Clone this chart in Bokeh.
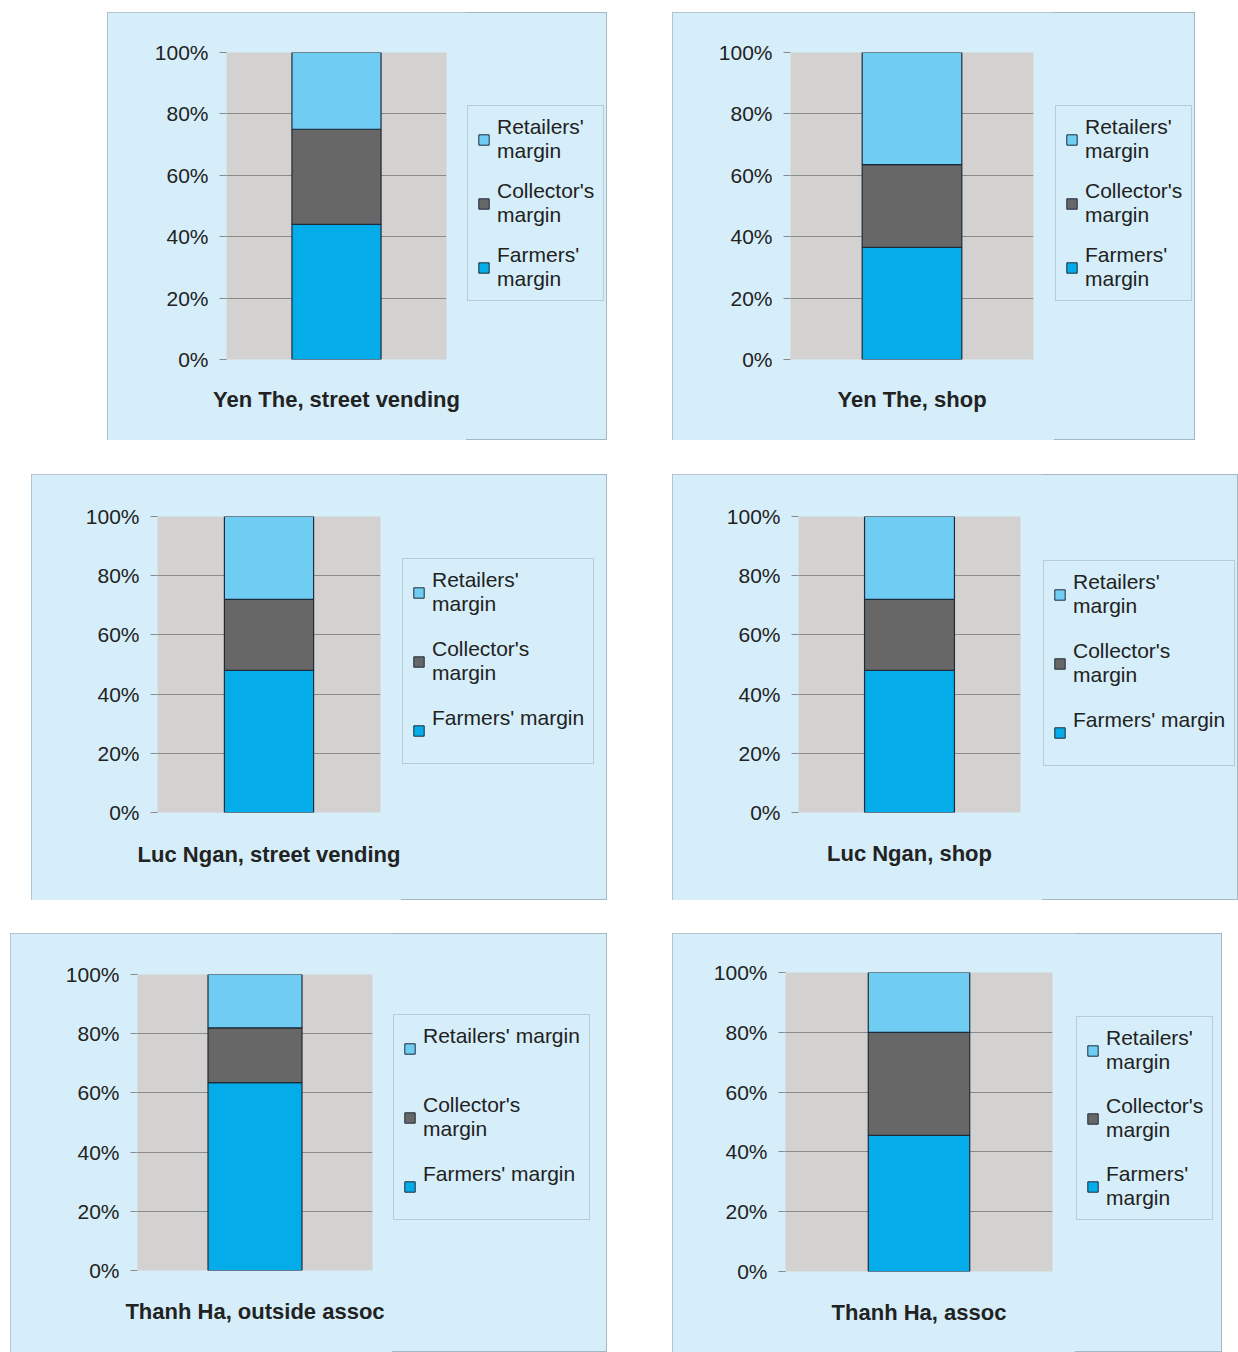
from bokeh.plotting import figure
from bokeh.layouts import column, row
from bokeh.models import (Spacer, Legend, LegendItem, FixedTicker, Range1d,
                          FactorRange, ColumnDataSource)
from bokeh.embed import file_html
from bokeh.resources import INLINE

# ---------------- data ----------------
panels = ["Yen The, street vending", "Yen The, shop",
          "Luc Ngan, street vending", "Luc Ngan, shop",
          "Thanh Ha, outside assoc", "Thanh Ha, assoc"]
farmers_margin = [44, 36.5, 48, 48, 63.5, 45.5]
collectors_margin = [31, 27, 24, 24, 18.5, 34.5]
retailers_margin = [25, 36.5, 28, 28, 18, 20]
series_names = ["Retailers' margin", "Collector's margin", "Farmers' margin"]
y_ticks = [0, 20, 40, 60, 80, 100]
y_tick_labels = ["0%", "20%", "40%", "60%", "80%", "100%"]
legend_labels = [
    ["Retailers'\nmargin", "Collector's\nmargin", "Farmers'\nmargin"],
    ["Retailers'\nmargin", "Collector's\nmargin", "Farmers'\nmargin"],
    ["Retailers'\nmargin", "Collector's\nmargin", "Farmers' margin\n "],
    ["Retailers'\nmargin", "Collector's\nmargin", "Farmers' margin\n "],
    ["Retailers' margin\n ", "Collector's\nmargin", "Farmers' margin\n "],
    ["Retailers'\nmargin", "Collector's\nmargin", "Farmers'\nmargin"],
]

# ---------------- style / geometry ----------------
OUTER_BG = "#d5eef9"
PLOT_BG = "#d4d1d1"
C_FARM = "#05acea"
C_COLL = "#676767"
C_RET = "#6fcdf4"
EDGE = "#1e2b38"
FONT = "Liberation Sans"

# box (x, y, w, h), frame (l, t, r, b) absolute, legend (left, top, spacing), title gap, bar width
geo = [
    dict(box=(107, 12, 500, 428), frame=(226, 52, 446, 359), leg=(467, 107, 16), tgap=41, bw=0.405),
    dict(box=(672, 12, 523, 428), frame=(790, 52, 1033, 359), leg=(1055, 107, 16), tgap=41, bw=0.41),
    dict(box=(31, 474, 576, 426), frame=(157, 516, 380, 812), leg=(402, 560, 21), tgap=45, bw=0.40),
    dict(box=(672, 474, 566, 426), frame=(798, 516, 1020, 812), leg=(1043, 562, 21), tgap=44, bw=0.405),
    dict(box=(10, 933, 597, 419), frame=(137, 974, 372, 1270), leg=(393, 1016, 21), tgap=43, bw=0.40),
    dict(box=(672, 933, 550, 419), frame=(785, 972, 1052, 1271), leg=(1076, 1018, 20), tgap=43, bw=0.38),
]

PAD = 9
LINE = 24


def make_panel(i):
    g = geo[i]
    bx, by, bw_, bh = g["box"]
    fl, ft, fr, fb = g["frame"]
    lx, ltop, sp = g["leg"]
    split = lx - 1
    name = panels[i]
    src = ColumnDataSource(dict(panel=[name], farmers=[farmers_margin[i]],
                                collector=[collectors_margin[i]],
                                retailers=[retailers_margin[i]]))
    stack = ["farmers", "collector", "retailers"]
    colors = [C_FARM, C_COLL, C_RET]

    p = figure(x_range=FactorRange(factors=[name]), y_range=Range1d(0, 100),
               width=split - bx, height=bh, output_backend="svg", toolbar_location=None,
               title=name, title_location="below",
               min_border_left=fl - bx, min_border_right=split - fr,
               min_border_top=ft - by, min_border_bottom=by + bh - fb,
               background_fill_color=PLOT_BG, border_fill_color=OUTER_BG,
               outline_line_color=None)
    p.vbar_stack(stack, x="panel", width=g["bw"], color=colors,
                 line_color=EDGE, line_width=1.2, source=src)
    p.xaxis.visible = False
    p.xgrid.grid_line_color = None
    p.ygrid.grid_line_color = "#8a8a8a"
    p.ygrid.grid_line_width = 1
    ax = p.yaxis[0]
    ax.ticker = FixedTicker(ticks=y_ticks)
    ax.major_label_overrides = {t: l for t, l in zip(y_ticks, y_tick_labels)}
    ax.axis_line_color = None
    ax.major_tick_line_color = "#8a8a8a"
    ax.major_tick_out = 7
    ax.major_tick_in = 0
    ax.minor_tick_line_color = None
    ax.major_label_standoff = 11
    ax.major_label_text_font = FONT
    ax.major_label_text_font_size = "21px"
    ax.major_label_text_color = "#222222"

    p.title.align = "center"
    p.title.text_font = FONT
    p.title.text_font_size = "22px"
    p.title.text_font_style = "bold"
    p.title.text_color = "#222222"
    p.title.standoff = g["tgap"] + 9

    # legend canvas to the right of the plot frame (frame aligned with the plot's)
    lf = figure(x_range=FactorRange(factors=[name]), y_range=Range1d(0, 100),
                width=bx + bw_ - split, height=bh, output_backend="svg",
                toolbar_location=None, x_axis_location=None, y_axis_location=None,
                min_border_left=0, min_border_right=0,
                background_fill_color=None, border_fill_color=None,
                outline_line_color=None)
    lf.grid.visible = False
    rl = lf.vbar_stack(stack, x="panel", width=g["bw"], color=colors,
                       line_color=EDGE, line_width=1, source=src)
    for r in rl:
        r.visible = False
    labels = legend_labels[i]
    nlines = [len(s.split("\n")) for s in labels]
    H = 2 * PAD + LINE * sum(nlines) + sp * (len(labels) - 1)
    loc_x = lx - split
    loc_y = fb - (ltop + H)
    items = [LegendItem(label=labels[0], renderers=[rl[2]]),
             LegendItem(label=labels[1], renderers=[rl[1]]),
             LegendItem(label=labels[2], renderers=[rl[0]])]
    leg = Legend(items=items, location=(loc_x, loc_y), padding=PAD, spacing=sp,
                 glyph_width=13, glyph_height=13, label_standoff=7,
                 label_text_font=FONT, label_text_font_size="21px",
                 label_text_color="#222222", label_height=18, margin=0,
                 border_line_color="#9aaab4", border_line_width=1,
                 background_fill_color=OUTER_BG, background_fill_alpha=1.0,
                 inactive_fill_alpha=0.0)
    lf.add_layout(leg)
    return row(p, lf, styles={"background-color": OUTER_BG,
                              "outline": "1px solid #a3b8c3", "outline-offset": "-1px"})


panels_layout = [make_panel(i) for i in range(6)]


def make_row(a, b):
    ga, gb = geo[a]["box"], geo[b]["box"]
    return row(Spacer(width=ga[0], height=10), panels_layout[a],
               Spacer(width=gb[0] - ga[0] - ga[2], height=10), panels_layout[b])


layout = column(
    Spacer(height=geo[0]["box"][1], width=10),
    make_row(0, 1),
    Spacer(height=geo[2]["box"][1] - geo[0]["box"][1] - geo[0]["box"][3], width=10),
    make_row(2, 3),
    Spacer(height=geo[4]["box"][1] - geo[2]["box"][1] - geo[2]["box"][3], width=10),
    make_row(4, 5),
)

open("out.html", "w").write(file_html(layout, INLINE))
